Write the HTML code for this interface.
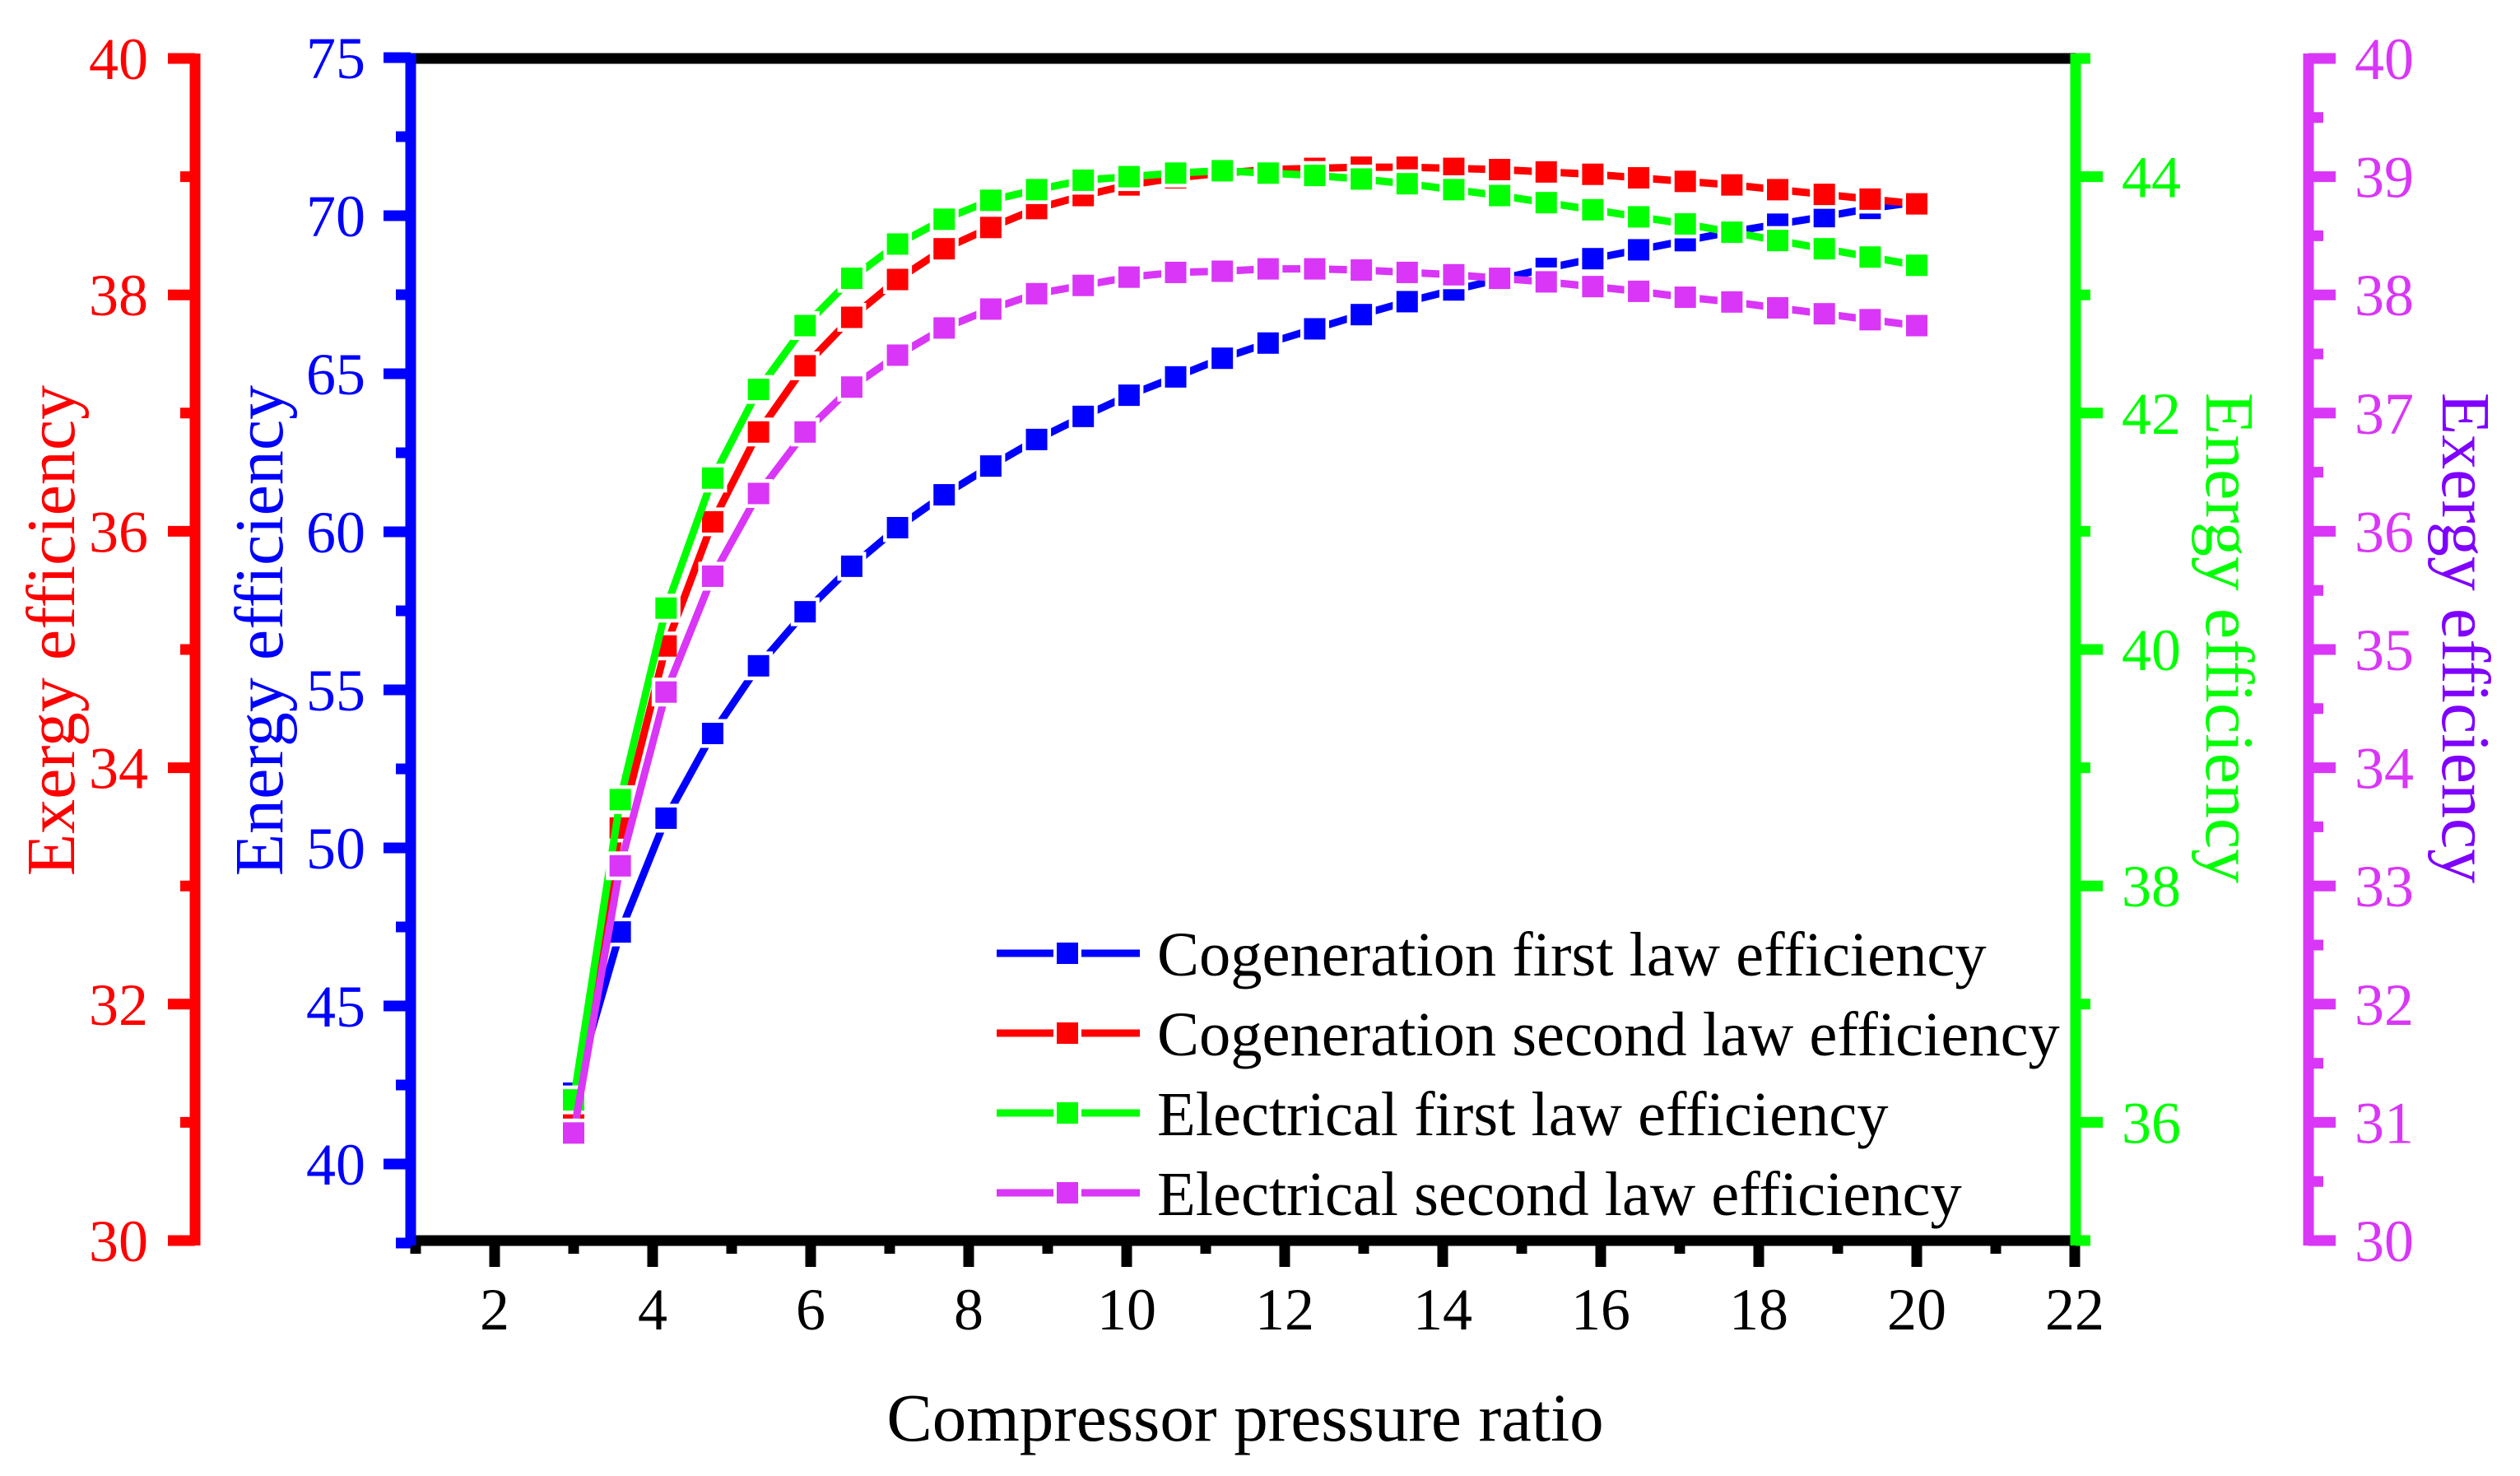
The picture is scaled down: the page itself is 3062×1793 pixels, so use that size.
<!DOCTYPE html>
<html>
<head>
<meta charset="utf-8">
<style>
html,body{margin:0;padding:0;background:#fff;}
svg{display:block;font-family:"Liberation Serif","Times New Roman",serif;}
</style>
</head>
<body>
<svg id="chart" width="3062" height="1793" viewBox="0 0 3062 1793" xmlns="http://www.w3.org/2000/svg">
  <rect x="0" y="0" width="3062" height="1793" fill="#fff"/>
  <g id="axes"></g>
  <g id="series"></g>
  <g id="legend"></g>
  <text x="1513" y="1750" font-size="83" text-anchor="middle" fill="#000">Compressor pressure ratio</text>
  <text transform="translate(90,766) rotate(-90)" font-size="84" text-anchor="middle" fill="#FF0000">Exergy efficiency</text>
  <text transform="translate(343,766) rotate(-90)" font-size="84" text-anchor="middle" fill="#0000FF">Energy efficiency</text>
  <text transform="translate(2681,775) rotate(90)" font-size="84" text-anchor="middle" fill="#00FF00">Energy efficiency</text>
  <text transform="translate(2968,775) rotate(90)" font-size="84" text-anchor="middle" fill="#7F00FF">Exergy efficiency</text>
</svg>
<script>
const xValues = [3, 3.59, 4.17, 4.76, 5.34, 5.93, 6.52, 7.10, 7.69, 8.28, 8.86, 9.45, 10.03, 10.62, 11.21, 11.79, 12.38, 12.97, 13.55, 14.14, 14.72, 15.31, 15.90, 16.48, 17.07, 17.66, 18.24, 18.83, 19.41, 20];
const cogenFirstLaw = [42.24, 47.34, 50.94, 53.62, 55.76, 57.47, 58.91, 60.13, 61.17, 62.08, 62.92, 63.65, 64.32, 64.90, 65.49, 65.97, 66.42, 66.87, 67.28, 67.65, 67.99, 68.33, 68.64, 68.92, 69.21, 69.49, 69.73, 69.97, 70.23, 70.43];
const cogenSecondLaw = [31.09, 33.49, 35.03, 36.08, 36.84, 37.40, 37.81, 38.13, 38.39, 38.57, 38.73, 38.84, 38.93, 38.99, 39.03, 39.06, 39.07, 39.08, 39.08, 39.07, 39.06, 39.04, 39.02, 38.99, 38.96, 38.93, 38.89, 38.85, 38.81, 38.77];
const elecFirstLaw = [36.19, 38.73, 40.35, 41.45, 42.20, 42.74, 43.14, 43.43, 43.64, 43.80, 43.89, 43.97, 44.00, 44.03, 44.05, 44.03, 44.01, 43.98, 43.94, 43.89, 43.84, 43.78, 43.72, 43.66, 43.60, 43.53, 43.46, 43.39, 43.32, 43.25];
const elecSecondLaw = [30.91, 33.17, 34.64, 35.62, 36.32, 36.84, 37.22, 37.49, 37.72, 37.88, 38.01, 38.08, 38.15, 38.19, 38.20, 38.22, 38.22, 38.21, 38.19, 38.17, 38.14, 38.11, 38.07, 38.03, 37.98, 37.94, 37.89, 37.84, 37.79, 37.74];
const xTickLabels = [2, 4, 6, 8, 10, 12, 14, 16, 18, 20, 22];
const redTickLabels = [30, 32, 34, 36, 38, 40];
const blueTickLabels = [40, 45, 50, 55, 60, 65, 70, 75];
const greenTickLabels = [36, 38, 40, 42, 44];
const magentaTickLabels = [30, 31, 32, 33, 34, 35, 36, 37, 38, 39, 40];
const legendLabels = ["Cogeneration first law efficiency", "Cogeneration second law efficiency", "Electrical first law efficiency", "Electrical second law efficiency"];

const NS = "http://www.w3.org/2000/svg";
const TOP = 71, BOT = 1507;
function X(v){ return 505 + (v - 1) * 96; }
function Yblue(v){ return 70 + (75 - v) * 38.4; }
function Yred(v){ return TOP + (40 - v) * 143.6; }
function Ygreen(v){ return TOP + (45 - v) * 143.6; }
function Ymag(v){ return TOP + (40 - v) * 143.6; }
function mk(tag, attrs, parent){
  const e = document.createElementNS(NS, tag);
  for (const k in attrs) e.setAttribute(k, attrs[k]);
  parent.appendChild(e);
  return e;
}
const axes = document.getElementById('axes');
const RED = "#FF0000", BLUE = "#0000FF", GREEN = "#00FF00", MAG = "#D936F7";

let el = mk('line', {x1: 499, y1: TOP, x2: 2522, y2: TOP, stroke: "#000", "stroke-width": 13}, axes);


el = mk('line', {x1: 499, y1: BOT, x2: 2522, y2: BOT, stroke: "#000", "stroke-width": 13}, axes);



for (let v = 1; v <= 22; v++) {
  const major = v % 2 === 0;
  const t = mk('line', {x1: X(v), y1: BOT, x2: X(v), y2: BOT + (major ? 32 : 16), stroke: "#000", "stroke-width": 13}, axes);
  
  
}
xTickLabels.forEach(v => {
  const t = mk('text', {x: X(v), y: 1615, "font-size": 72, "text-anchor": "middle", fill: "#000"}, axes);
  t.textContent = v;
  
  
});

function vAxis(name, xc, color, yfn, lo, hi, minorStep, majorStep, labels, side, labelX) {
  const l = mk('line', {x1: xc, y1: TOP - 6, x2: xc, y2: BOT + 6, stroke: color, "stroke-width": 13}, axes);
  
  
  const n = Math.round((hi - lo) / minorStep);
  for (let i = 0; i <= n; i++) {
    const v = lo + i * minorStep;
    const isMajor = Math.abs(v / majorStep - Math.round(v / majorStep)) < 1e-6;
    const len = isMajor ? 39 : 24;
    const y = yfn(v);
    const x2 = side < 0 ? xc - len + 6 : xc + len - 6;
    const t = mk('line', {x1: xc, y1: y, x2: x2, y2: y, stroke: color, "stroke-width": 13}, axes);
    
    
  }
  labels.forEach(v => {
    const t = mk('text', {x: labelX, y: yfn(v) + 25, "font-size": 72, "text-anchor": side < 0 ? "end" : "start", fill: color}, axes);
    t.textContent = v;
    
    
  });
}
vAxis('red', 237, RED, Yred, 30, 40, 1, 2, redTickLabels, -1, 180);
vAxis('blue', 499, BLUE, Yblue, 37.5, 75, 2.5, 5, blueTickLabels, -1, 444);
vAxis('green', 2522, GREEN, Ygreen, 35, 45, 1, 2, greenTickLabels, 1, 2578);
vAxis('magenta', 2805, MAG, Ymag, 30, 40, 0.5, 1, magentaTickLabels, 1, 2861);

const sg = document.getElementById('series');
function drawSeries(name, vals, yfn, color) {
  const g = mk('g', {}, sg);
  
  
  const pts = vals.map((v, i) => X(xValues[i]) + ',' + yfn(v)).join(' ');
  const pl = mk('polyline', {points: pts, fill: "none", stroke: color, "stroke-width": 9, "stroke-linejoin": "round"}, g);
  
  
  vals.forEach((v, i) => {
    const cx = X(xValues[i]), cy = yfn(v);
    const r = mk('rect', {x: cx - 13, y: cy - 13, width: 26, height: 26, fill: color, stroke: "#fff", "stroke-width": 9, "paint-order": "stroke"}, g);
    
    
  });
}
drawSeries('cogeneration-first-law', cogenFirstLaw, Yblue, BLUE);
drawSeries('cogeneration-second-law', cogenSecondLaw, Yred, RED);
drawSeries('electrical-first-law', elecFirstLaw, Ygreen, GREEN);
drawSeries('electrical-second-law', elecSecondLaw, Ymag, MAG);

const lg = document.getElementById('legend');
const legColors = [BLUE, RED, GREEN, MAG];
legendLabels.forEach((txt, i) => {
  const y = 1158 + i * 97;
  const g = mk('g', {}, lg);
  
  
  let a = mk('line', {x1: 1211, y1: y, x2: 1280, y2: y, stroke: legColors[i], "stroke-width": 9}, g);
  
  
  a = mk('line', {x1: 1314, y1: y, x2: 1385, y2: y, stroke: legColors[i], "stroke-width": 9}, g);
  
  
  a = mk('rect', {x: 1284, y: y - 13, width: 26, height: 26, fill: legColors[i]}, g);
  
  
  a = mk('text', {x: 1406, y: y + 27, "font-size": 76.5, fill: "#000"}, g);
  a.textContent = txt;
  
  
});
</script>
</body>
</html>
